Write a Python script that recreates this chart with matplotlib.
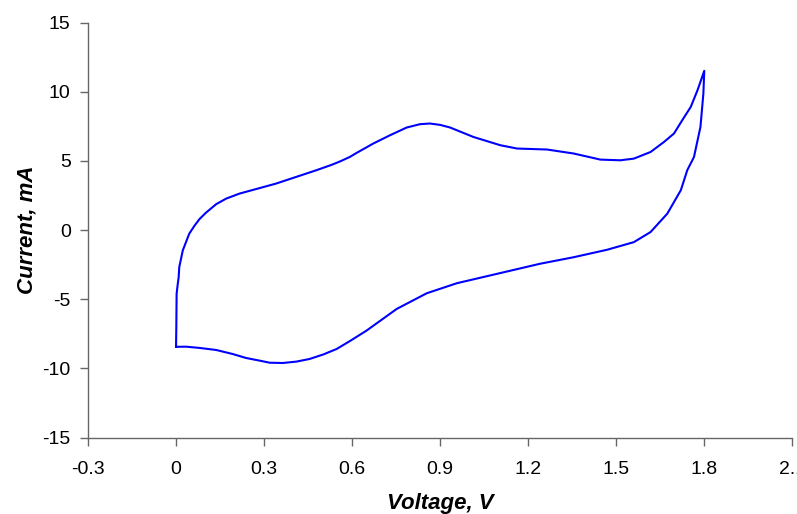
import matplotlib.pyplot as plt

# anodic sweep (upper branch), 0 V -> 1.8 V
fwd_v = [0.0, 0.001, 0.002, 0.006, 0.009, 0.011, 0.023, 0.045, 0.063, 0.08,
         0.102, 0.137, 0.171, 0.216, 0.34, 0.478, 0.53, 0.558, 0.592, 0.615,
         0.672, 0.729, 0.786, 0.831, 0.865, 0.9, 0.934, 1.013, 1.105, 1.162,
         1.264, 1.355, 1.446, 1.514, 1.56, 1.617, 1.663, 1.697, 1.725, 1.754,
         1.777, 1.80]
fwd_i = [-8.44, -7.0, -4.6, -3.88, -3.4, -2.68, -1.47, -0.26, 0.32, 0.80,
         1.26, 1.88, 2.28, 2.64, 3.36, 4.33, 4.72, 4.96, 5.29, 5.58,
         6.26, 6.86, 7.42, 7.66, 7.71, 7.61, 7.42, 6.74, 6.14, 5.9,
         5.83, 5.54, 5.1, 5.05, 5.17, 5.65, 6.38, 6.99, 7.95, 8.91,
         10.12, 11.52]

# cathodic sweep (lower branch), 1.8 V -> 0 V
rev_v = [1.80, 1.797, 1.787, 1.765, 1.742, 1.731, 1.72, 1.674, 1.617, 1.56,
         1.469, 1.355, 1.241, 1.07, 0.957, 0.854, 0.752, 0.649, 0.592, 0.547,
         0.501, 0.455, 0.41, 0.364, 0.319, 0.285, 0.239, 0.193, 0.137, 0.08,
         0.034, 0.0]
rev_i = [11.52, 9.88, 7.46, 5.29, 4.33, 3.6, 2.88, 1.19, -0.14, -0.87,
         -1.42, -1.96, -2.43, -3.28, -3.84, -4.57, -5.7, -7.27, -8.03, -8.6,
         -9.0, -9.32, -9.51, -9.61, -9.59, -9.44, -9.25, -8.96, -8.67, -8.52,
         -8.43, -8.44]

x_ticks = [-0.3, 0, 0.3, 0.6, 0.9, 1.2, 1.5, 1.8, 2.1]
x_labels = ["-0.3", "0", "0.3", "0.6", "0.9", "1.2", "1.5", "1.8", "2.1"]
y_ticks = [-15, -10, -5, 0, 5, 10, 15]

plt.rcParams['font.family'] = ['Liberation Sans', 'DejaVu Sans']
plt.rcParams['axes.unicode_minus'] = False

fig = plt.figure(figsize=(7.97, 5.14), dpi=100)
ax = fig.add_axes([0.1104, 0.1488, 0.8837, 0.807])

ax.plot(fwd_v + rev_v, fwd_i + rev_i, color='#0000FF', lw=1.5,
        solid_joinstyle='round')

ax.set_xlim(-0.3, 2.1)
ax.set_ylim(-15, 15)
ax.set_xticks(x_ticks)
ax.set_xticklabels(x_labels)
ax.set_yticks(y_ticks)

for side in ['top', 'right']:
    ax.spines[side].set_visible(False)
for side in ['left', 'bottom']:
    ax.spines[side].set_color('#666666')
    ax.spines[side].set_linewidth(1.0)

ax.tick_params(axis='both', direction='out', length=6, width=1,
               color='#666666', labelsize=14)
ax.tick_params(axis='x', pad=11)
ax.tick_params(axis='y', pad=6.5)

ax.set_xlabel('Voltage, V', fontsize=16, fontweight='bold', style='italic')
ax.set_ylabel('Current, mA', fontsize=16, fontweight='bold', style='italic')
ax.xaxis.set_label_coords(0.5, -0.134)
ax.yaxis.set_label_coords(-0.072, 0.5)

fig.savefig('out.png', dpi=100)
